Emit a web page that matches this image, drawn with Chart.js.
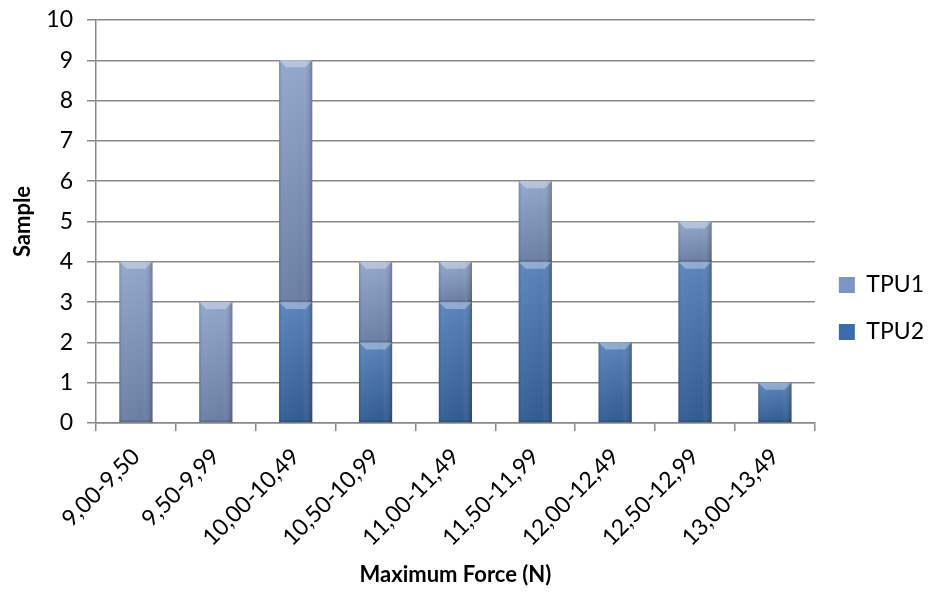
<!DOCTYPE html>
<html>
<head>
<meta charset="utf-8">
<script src="https://cdn.jsdelivr.net/npm/chart.js@4.4.1/dist/chart.umd.min.js"></script>
<style>
  html,body{margin:0;padding:0;background:#fff;}
  #wrap{width:940px;height:594px;position:relative;}
</style>
</head>
<body>
<div id="wrap"><canvas id="c" width="940" height="594"></canvas></div>
<script>
// data
const categories = ['9,00-9,50','9,50-9,99','10,00-10,49','10,50-10,99','11,00-11,49','11,50-11,99','12,00-12,49','12,50-12,99','13,00-13,49'];
const tpu2 = [0,0,3,2,3,4,2,4,1];
const tpu1 = [4,3,6,2,1,2,0,1,0];
const yTicks = [0,1,2,3,4,5,6,7,8,9,10];

const FONT = 'Lato, Carlito, Calibri, sans-serif';
const GRID = '#888888';

// bevel look like the office chart
const bevel = {
  id:'bevel',
  afterDatasetsDraw(chart){
    const ctx = chart.ctx;
    chart.data.datasets.forEach((ds, di)=>{
      const meta = chart.getDatasetMeta(di);
      meta.data.forEach(el=>{
        const h = el.base - el.y;
        if(h < 1) return;
        const l = el.x - el.width/2, r = el.x + el.width/2, t = el.y, b = el.base;
        const bv = 7;
        ctx.save();
        // vertical shading
        const vg = ctx.createLinearGradient(0,t,0,b);
        vg.addColorStop(0,'rgba(255,255,255,0.16)');
        vg.addColorStop(1,'rgba(0,0,0,0.16)');
        ctx.fillStyle = vg; ctx.fillRect(l,t,r-l,h);
        // horizontal shading
        const hg = ctx.createLinearGradient(l,0,r,0);
        hg.addColorStop(0,'rgba(0,0,0,0.18)');
        hg.addColorStop(0.12,'rgba(255,255,255,0.04)');
        hg.addColorStop(0.7,'rgba(255,255,255,0)');
        hg.addColorStop(1,'rgba(0,0,0,0.25)');
        ctx.fillStyle = hg; ctx.fillRect(l,t,r-l,h);
        // top bevel
        ctx.beginPath();
        ctx.moveTo(l,t); ctx.lineTo(r,t); ctx.lineTo(r-bv,t+bv); ctx.lineTo(l+bv,t+bv); ctx.closePath();
        ctx.fillStyle = 'rgba(255,255,255,0.32)'; ctx.fill();
        // bottom edge
        ctx.fillStyle = 'rgba(0,0,0,0.12)';
        ctx.fillRect(l, b-2, r-l, 2);
        ctx.restore();
      });
    });
  }
};

new Chart(document.getElementById('c'), {
  type:'bar',
  data:{
    labels: categories,
    datasets:[
      { label:'TPU2', data:tpu2, backgroundColor:'#3a6cae', borderWidth:0 },
      { label:'TPU1', data:tpu1, backgroundColor:'#7d95c1', borderWidth:0 }
    ]
  },
  options:{
    responsive:false,
    animation:false,
    layout:{ padding:{ top:0, right:6, bottom:4, left:0 } },
    datasets:{ bar:{ categoryPercentage:1, barPercentage:0.415 } },
    plugins:{
      legend:{
        position:'right',
        reverse:true,
        maxWidth:125,
        title:{ display:true, text:' ', font:{size:10}, padding:7.5 },
        labels:{ font:{family:FONT, size:23}, color:'#000', boxWidth:16, boxHeight:16, padding:24 }
      },
      tooltip:{ enabled:false }
    },
    scales:{
      x:{
        stacked:true,
        afterFit(axis){ axis.height = 167; axis.paddingLeft = 0; axis.paddingRight = 0; },
        grid:{ drawOnChartArea:false, drawTicks:true, tickLength:8, color:GRID, lineWidth:1.5 },
        border:{ color:GRID, width:1.5 },
        ticks:{ font:{family:FONT, size:23}, color:'#000', minRotation:45, maxRotation:45, padding:12 },
        title:{ display:true, text:'Maximum Force (N)', font:{family:FONT, size:22, weight:'bold'}, color:'#000', padding:{top:2, bottom:2} }
      },
      y:{
        stacked:true,
        min:0, max:10,
        afterBuildTicks(axis){ axis.ticks = yTicks.map(v=>({value:v})); },
        afterFit(axis){ axis.width = 96; axis.paddingTop = 20; axis.paddingBottom = 0; },
        grid:{ color:GRID, lineWidth:1.5, tickLength:9 },
        border:{ color:GRID, width:1.5 },
        ticks:{ font:{family:FONT, size:23}, color:'#000', padding:14 },
        title:{ display:true, text:'Sample', font:{family:FONT, size:22, weight:'bold'}, color:'#000', padding:{top:10, bottom:0} }
      }
    }
  },
  plugins:[bevel]
});
</script>
</body>
</html>
